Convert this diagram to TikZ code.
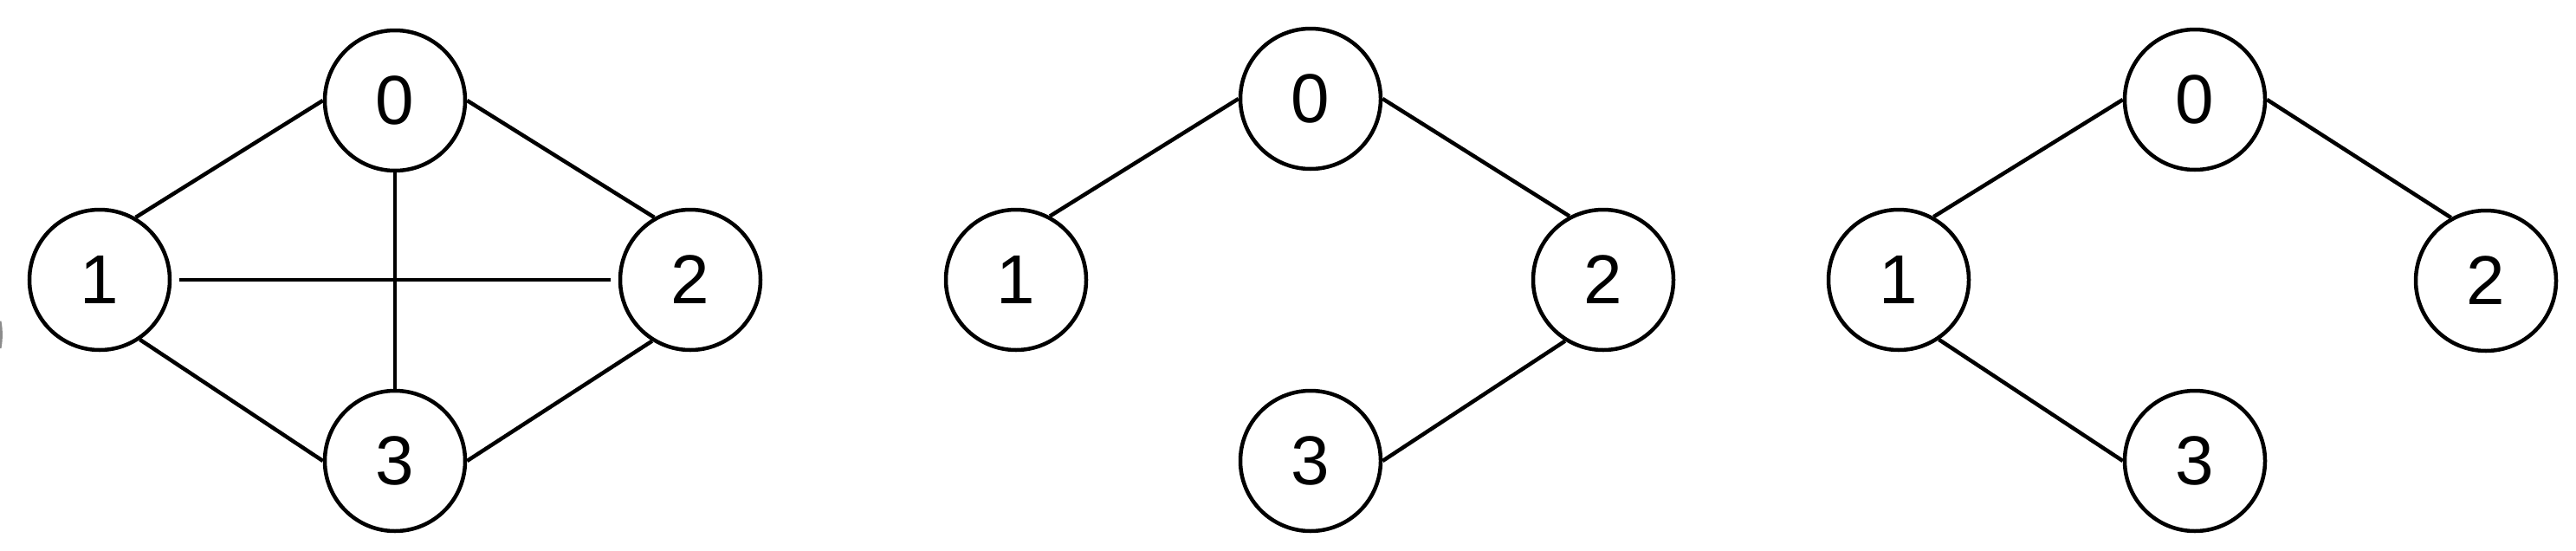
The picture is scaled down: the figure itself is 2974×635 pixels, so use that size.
\documentclass[tikz,border=0pt]{standalone}
\usepackage{fontspec}
\setmainfont{Liberation Sans}
\begin{document}
\begin{tikzpicture}[x=1pt,y=-1pt,
  vtx/.style={circle,draw=black,line width=4.5pt,minimum size=162pt,inner sep=0pt,
    font=\fontsize{80}{96}\selectfont},
  edge/.style={draw=black,line width=4.5pt}]
\useasboundingbox (0,0) rectangle (2974,635);
% graph 1
\node[vtx] (a0) at (456,116) {0};
\node[vtx] (a1) at (115,323) {1};
\node[vtx] (a2) at (797,323) {2};
\node[vtx] (a3) at (456,532) {3};
\draw[edge] (a1.60) -- (a0.west);
\draw[edge] (a0.east) -- (a2.120);
\draw[edge] (a1.-56) -- (a3.west);
\draw[edge] (a3.east) -- (a2.238);
\draw[edge,shorten <=9pt,shorten >=9pt] (a1.east) -- (a2.west);
\draw[edge] (a0.south) -- (a3.north);
% graph 2
\node[vtx] (b0) at (1513,114) {0};
\node[vtx] (b1) at (1173,323) {1};
\node[vtx] (b2) at (1851,323) {2};
\node[vtx] (b3) at (1513,532) {3};
\draw[edge] (b1.62) -- (b0.west);
\draw[edge] (b0.east) -- (b2.118);
\draw[edge] (b2.238) -- (b3.east);
% graph 3
\node[vtx] (c0) at (2534,115) {0};
\node[vtx] (c1) at (2192,323) {1};
\node[vtx] (c2) at (2870,324) {2};
\node[vtx] (c3) at (2534,532) {3};
\draw[edge] (c1.61) -- (c0.west);
\draw[edge] (c0.east) -- (c2.119);
\draw[edge] (c1.-56) -- (c3.west);
% faint stray fragment at left edge
\draw[line width=3pt,black!45] (0,402) arc[start angle=10,end angle=-10,radius=90];
\end{tikzpicture}
\end{document}
